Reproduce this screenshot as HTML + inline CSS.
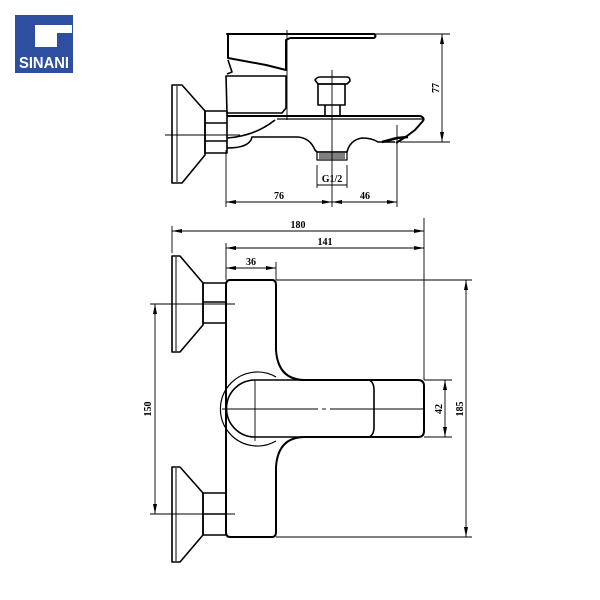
<!DOCTYPE html>
<html><head><meta charset="utf-8"><style>html,body{margin:0;padding:0;background:#fff}svg{display:block}</style></head>
<body>
<svg width="600" height="600" viewBox="0 0 600 600" xmlns="http://www.w3.org/2000/svg" font-family="Liberation Serif, serif">
<rect width="600" height="600" fill="#fff"/>
<!-- logo -->
<rect x="15" y="15" width="58" height="58" fill="#2e4fa0"/>
<path d="M35 25 H72 V33 H57 V47 H35 Z" fill="#fff"/>
<text x="44" y="68" font-family="Liberation Sans, sans-serif" font-weight="bold" font-size="16" fill="#fff" text-anchor="middle" textLength="50" lengthAdjust="spacingAndGlyphs">SINANI</text>

<g fill="none" stroke="#000" stroke-width="1.6" stroke-linejoin="round">
<!-- top view: flange -->
<path d="M172 85 H182 L205 111 V155 L182 183 H172 Z"/>
<line x1="177" y1="86" x2="177" y2="182" stroke-width="1"/>
<!-- nut -->
<path d="M205 111 H227 V153 H205 Z"/>
<line x1="205" y1="123" x2="227" y2="123"/><line x1="205" y1="141" x2="227" y2="141"/>
<!-- lever -->
<path d="M227 34 H374 Q377 36 374 38 H290 L286 40 V70 L266 65 L228 58 V34 Z" stroke-width="2"/>
<path d="M228 60 L232 72 L227 74"/>
<path d="M226 76 H286 V108 L282 113 H227 Z"/>
<!-- spout -->
<path d="M227 116 H420 Q426 118 422 122 L415 130 L407 136 L396 143" stroke-width="2"/>
<line x1="277" y1="119" x2="423" y2="119" stroke-width="1.2"/>
<path d="M227 138 Q255 136 275 120"/>
<path d="M227 148 Q250 148 252 137 L298 137 Q310 138 315 150 L317 152 H347 Q350 140 362 138 Q372 138 378 142 L395 142"/>
<path d="M382 142 L397 138 L408 137" stroke-width="2.5"/>
<!-- diverter -->
<path d="M315 80 Q317 77 320 77 H347 Q350 77 350 81 L347 84 H318 Z"/>
<path d="M318 84 H345 V105 H318 Z"/>
<path d="M325 105 V117 M340 105 V117"/>
<!-- thread -->
<path d="M317 152 H347 V160 H317 Z" stroke-width="1.2"/>
<path d="M319 154 H345 M319 156 H345 M319 158 H345" stroke-width="1"/>
</g>
<g stroke="#000" stroke-width="0.9" fill="none">
<line x1="287" y1="30" x2="287" y2="120"/>
<line x1="332" y1="70" x2="332" y2="207"/>
<line x1="165" y1="135" x2="240" y2="135"/>
<line x1="226" y1="150" x2="226" y2="207"/>
<line x1="397" y1="125" x2="397" y2="207"/>
<line x1="226" y1="202" x2="397" y2="202"/>
<line x1="375" y1="34" x2="450" y2="34"/>
<line x1="400" y1="142" x2="450" y2="142"/>
<line x1="442" y1="34" x2="442" y2="142"/>
<line x1="317" y1="165" x2="317" y2="188"/><line x1="347" y1="165" x2="347" y2="188"/>
<line x1="317" y1="185" x2="347" y2="185"/>
</g>
<g fill="#000">
<path d="M226 202 l10 -2 v4 z M332 202 l-10 -2 v4 z M332 202 l10 -2 v4 z M397 202 l-10 -2 v4 z"/>
<path d="M442 34 l-2 10 h4 z M442 142 l-2 -10 h4 z"/>
</g>
<g font-size="10" font-weight="bold" fill="#000">
<text x="279" y="199" text-anchor="middle">76</text>
<text x="365" y="199" text-anchor="middle">46</text>
<text x="332" y="182" text-anchor="middle">G1/2</text>
<text transform="translate(439 88) rotate(-90)" text-anchor="middle">77</text>
</g>

<!-- bottom view -->
<g fill="none" stroke="#000" stroke-width="1.6" stroke-linejoin="round">
<path d="M172 256 H180 L203 283 V325 L180 352 H172 Z"/>
<line x1="176" y1="257" x2="176" y2="351" stroke-width="1"/>
<path d="M203 283 H226 V323 H203 Z"/><line x1="203" y1="302" x2="226" y2="302"/>
<path d="M172 467 H180 L203 493 V535 L180 562 H172 Z"/>
<line x1="176" y1="468" x2="176" y2="561" stroke-width="1"/>
<path d="M203 493 H226 V535 H203 Z"/><line x1="203" y1="514" x2="226" y2="514"/>
<!-- body -->
<path d="M230 280 H272 Q276 280 276 285 V350 Q278 380 305 380 H418 Q424 380 424 386 V431 Q424 437 418 437 H305 Q278 437 276 467 V532 Q276 537 272 537 H230 Q226 537 226 532 V285 Q226 280 230 280 Z" stroke-width="2"/>
<path d="M255 380 H305 M255 437 H305"/>
<path d="M255 380 A28.5 28.5 0 0 0 255 437"/>
<path d="M276 377 A37 37 0 1 0 276 441" stroke-width="1.2"/>
<path d="M369 380 Q374 382 374 390 V427 Q374 435 369 437" stroke-width="1.6"/>
</g>
<g stroke="#000" stroke-width="0.9" fill="none">
<line x1="222" y1="409" x2="318" y2="409"/><line x1="322" y1="409" x2="326" y2="409"/><line x1="330" y1="409" x2="424" y2="409"/>
<line x1="255" y1="380" x2="255" y2="441"/>
<line x1="150" y1="304" x2="235" y2="304"/>
<line x1="150" y1="514" x2="235" y2="514"/>
<line x1="155" y1="304" x2="155" y2="514"/>
<line x1="172" y1="226" x2="172" y2="253"/>
<line x1="424" y1="218" x2="424" y2="380"/>
<line x1="226" y1="243" x2="226" y2="280"/>
<line x1="276" y1="262" x2="276" y2="280"/>
<line x1="172" y1="231" x2="424" y2="231"/>
<line x1="226" y1="248" x2="424" y2="248"/>
<line x1="226" y1="268" x2="276" y2="268"/>
<line x1="276" y1="280" x2="472" y2="280"/>
<line x1="276" y1="537" x2="472" y2="537"/>
<line x1="466" y1="280" x2="466" y2="537"/>
<line x1="424" y1="380" x2="452" y2="380"/>
<line x1="424" y1="437" x2="452" y2="437"/>
<line x1="445" y1="380" x2="445" y2="437"/>
</g>
<g fill="#000">
<path d="M172 231 l10 -2 v4 z M424 231 l-10 -2 v4 z"/>
<path d="M226 248 l10 -2 v4 z M424 248 l-10 -2 v4 z"/>
<path d="M226 268 l10 -2 v4 z M276 268 l-10 -2 v4 z"/>
<path d="M155 304 l-2 10 h4 z M155 514 l-2 -10 h4 z"/>
<path d="M466 280 l-2 10 h4 z M466 537 l-2 -10 h4 z"/>
<path d="M445 380 l-2 10 h4 z M445 437 l-2 -10 h4 z"/>
</g>
<g font-size="10" font-weight="bold" fill="#000">
<text x="298" y="228" text-anchor="middle">180</text>
<text x="325" y="245" text-anchor="middle">141</text>
<text x="251" y="265" text-anchor="middle">36</text>
<text transform="translate(151 409) rotate(-90)" text-anchor="middle">150</text>
<text transform="translate(463 409) rotate(-90)" text-anchor="middle">185</text>
<text transform="translate(442 409) rotate(-90)" text-anchor="middle">42</text>
</g>
</svg>
</body></html>
